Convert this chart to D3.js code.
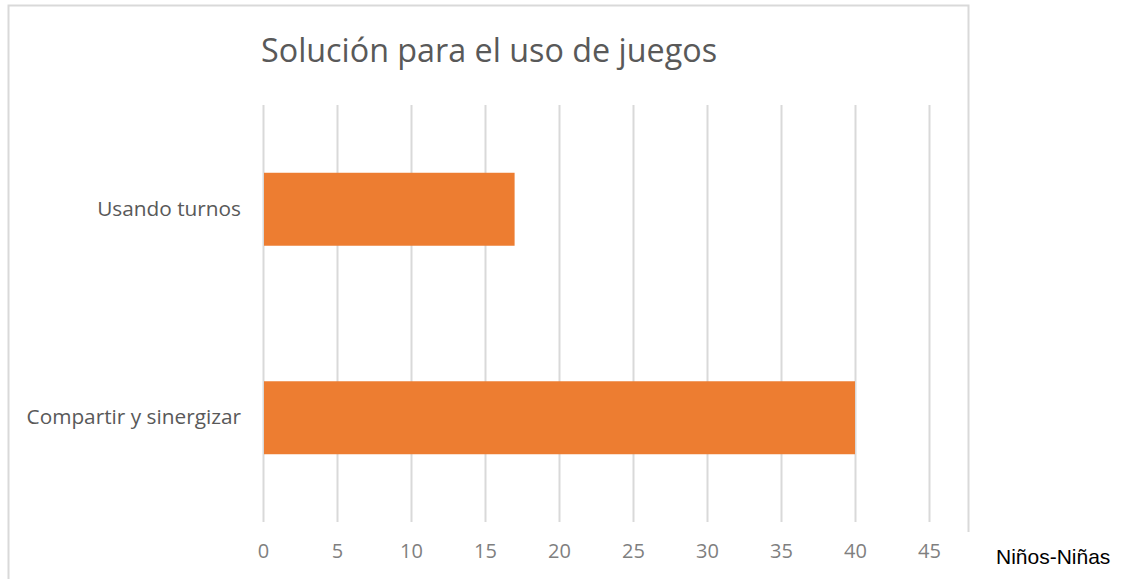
<!DOCTYPE html>
<html>
<head>
<meta charset="utf-8">
<script src="https://cdn.jsdelivr.net/npm/d3@7"></script>
<style>
  body { margin: 0; background: #fff; }
  svg text { font-family: "Open Sans", "Noto Sans", sans-serif; }
</style>
</head>
<body>
<div id="chart"></div>
<script>
// Chart data
const categories = ["Usando turnos", "Compartir y sinergizar"];
const values = [17, 40];
const xTicks = [0, 5, 10, 15, 20, 25, 30, 35, 40, 45];
const titleText = "Solución para el uso de juegos";
const unitLabel = "Niños-Niñas";

const W = 1125, H = 579;
const margin = { top: 105, right: 196, bottom: 57, left: 263 };
const width = W - margin.left - margin.right;
const height = H - margin.top - margin.bottom;

const svg = d3.select("#chart").append("svg")
    .attr("width", W).attr("height", H);

// Chart frame (bottom edge is outside the picture)
svg.append("path")
    .attr("d", "M8.5,579 L8.5,5.5 L968.5,5.5 L968.5,532")
    .attr("fill", "none").attr("stroke", "#d9d9d9").attr("stroke-width", 2);

svg.append("text")
    .attr("x", 261).attr("y", 62)
    .attr("fill", "#595959").style("font-size", "32.3px")
    .text(titleText);

const g = svg.append("g").attr("transform", `translate(${margin.left},${margin.top})`);

const x = d3.scaleLinear().domain([0, 45]).range([0, width]);
const y = d3.scaleBand().domain(categories).range([0, height]).paddingInner(0.65).paddingOuter(0.325);

// Vertical gridlines
g.append("g")
    .selectAll("line").data(xTicks).enter().append("line")
    .attr("x1", d => Math.round(x(d)) + 0.5).attr("x2", d => Math.round(x(d)) + 0.5)
    .attr("y1", 0).attr("y2", height)
    .attr("stroke", "#d9d9d9").attr("stroke-width", 2);

// Bars
g.selectAll(".bar").data(categories).enter().append("rect")
    .attr("class", "bar")
    .attr("x", x(0) + 1)
    .attr("y", d => y(d))
    .attr("width", (d, i) => x(values[i]) - x(0) - 1)
    .attr("height", y.bandwidth())
    .attr("fill", "#ED7D31");

// X axis labels
const xAxis = g.append("g").attr("transform", `translate(0,${height})`)
    .call(d3.axisBottom(x).tickValues(xTicks).tickSize(0).tickPadding(22));
xAxis.select(".domain").remove();
xAxis.selectAll(".tick text").attr("fill", "#7f7f7f").style("font-size", "20px")
    .style("font-family", "'Open Sans', 'Noto Sans', sans-serif");

// Y axis labels
const yAxis = g.append("g")
    .call(d3.axisLeft(y).tickSize(0).tickPadding(22));
yAxis.select(".domain").remove();
yAxis.selectAll(".tick text").attr("fill", "#595959").style("font-size", "20.8px")
    .style("font-family", "'Open Sans', 'Noto Sans', sans-serif");

svg.append("text")
    .attr("x", 996).attr("y", 564)
    .attr("fill", "#000").style("font-size", "21px")
    .style("font-family", "'Liberation Sans', Arial, sans-serif")
    .text(unitLabel);
</script>
</body>
</html>
